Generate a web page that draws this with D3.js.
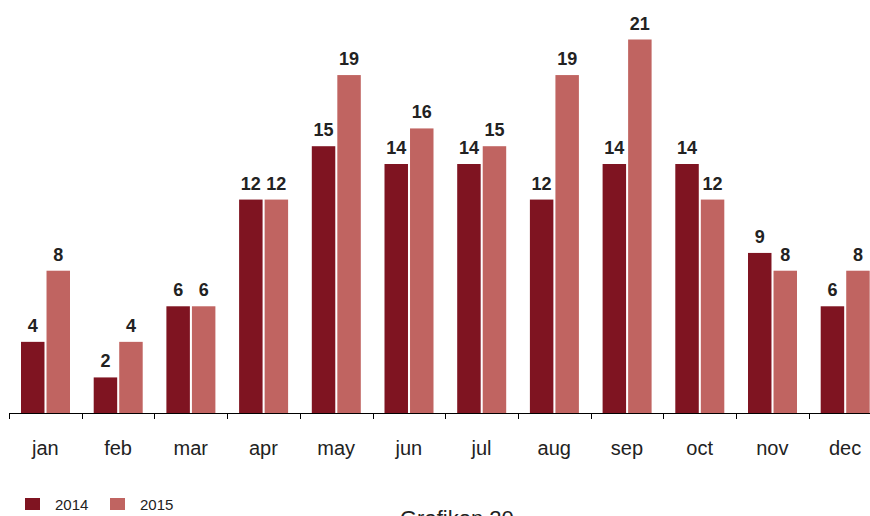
<!DOCTYPE html>
<html><head><meta charset="utf-8">
<script src="https://cdn.jsdelivr.net/npm/d3@7"></script>
<style>body{margin:0;background:#fff}svg{display:block}text{font-family:Arial,"Liberation Sans",sans-serif}</style>
</head><body><svg id="c" width="870" height="516"></svg>
<script>
const months = ["jan","feb","mar","apr","may","jun","jul","aug","sep","oct","nov","dec"];
const seriesNames = ["2014","2015"];
const values2014 = [4,2,6,12,15,14,14,12,14,14,9,6];
const values2015 = [8,4,6,12,19,16,15,19,21,12,8,8];
const colors = ["#7f1421","#c06461"];
const title = "Grafikon 20";

const svg = d3.select("#c");
const x = d3.scaleBand().domain(months).range([9, 9 + 12*72.7]).padding(0);
const xs = d3.scaleBand().domain(seriesNames).range([12, 61]).paddingInner(0.08);
const y = d3.scaleLinear().domain([0, 21]).range([413, 39.5]);
const series = [values2014, values2015];

const data = [];
months.forEach((m,i)=>seriesNames.forEach((s,j)=>data.push({m, s, v: series[j][i], j})));

svg.selectAll("rect.bar").data(data).join("rect").attr("class","bar")
  .attr("x", d=>x(d.m)+xs(d.s)).attr("width", xs.bandwidth())
  .attr("y", d=>y(d.v)).attr("height", d=>y(0)-y(d.v))
  .attr("fill", d=>colors[d.j]);

svg.selectAll("text.val").data(data).join("text").attr("class","val")
  .attr("x", d=>x(d.m)+xs(d.s)+xs.bandwidth()/2).attr("y", d=>y(d.v)-10)
  .attr("text-anchor","middle").attr("font-size",18).attr("font-weight","bold").attr("fill","#222")
  .text(d=>d.v);

// axis
const ax = svg.append("g").attr("transform","translate(0,413)");
ax.append("line").attr("x1",9).attr("x2",870).attr("y1",0.5).attr("y2",0.5).attr("stroke","#000");
ax.selectAll("line.tk").data(months).join("line").attr("class","tk")
  .attr("x1",d=>Math.round(x(d))+0.5).attr("x2",d=>Math.round(x(d))+0.5)
  .attr("y1",0).attr("y2",6).attr("stroke","#000");
svg.selectAll("text.mon").data(months).join("text").attr("class","mon")
  .attr("x", d=>x(d)+x.bandwidth()/2).attr("y",455)
  .attr("text-anchor","middle").attr("font-size",20).attr("fill","#222").text(d=>d);

// legend
const lg = svg.append("g");
const lx = [25, 110];
seriesNames.forEach((s,j)=>{
  lg.append("rect").attr("x",lx[j]).attr("y",498).attr("width",15).attr("height",12).attr("fill",colors[j]);
  lg.append("text").attr("x",lx[j]+30).attr("y",510).attr("font-size",15).attr("fill","#222").text(s);
});
svg.append("text").attr("x",400).attr("y",526).attr("font-size",22).attr("fill","#222").text(title);
</script></body></html>
